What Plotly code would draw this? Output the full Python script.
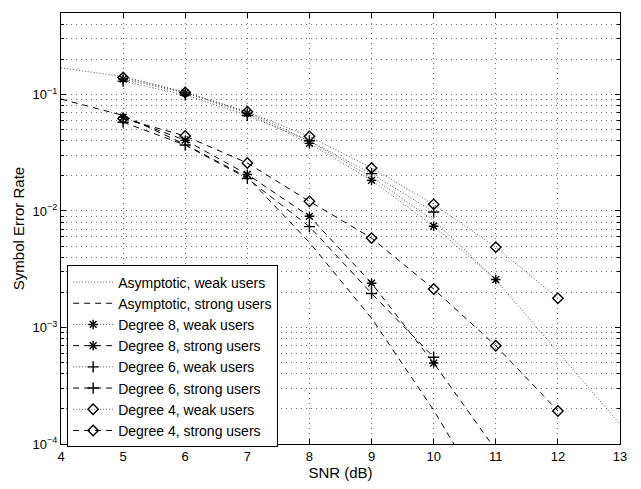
import math
import plotly.graph_objects as go

# ---------------- data ----------------
snr_asym_weak = [4, 5, 6, 7, 8, 9, 10, 11, 12, 13]
asym_weak = [0.169, 0.1426, 0.1047, 0.0708, 0.0398, 0.0195, 0.0083, 0.00257, 0.000617, 0.000148]

snr_asym_strong = [4, 5, 6, 7, 8, 9, 10, 11]
asym_strong = [0.0912, 0.0661, 0.0372, 0.0195, 0.00537, 0.0012, 0.000195, 0.000025]

snr_d8_weak = [5, 6, 7, 8, 9, 10, 11]
d8_weak = [0.1355, 0.103, 0.069, 0.038, 0.0183, 0.0074, 0.00258]
snr_d8_strong = [5, 6, 7, 8, 9, 10, 11]
d8_strong = [0.0637, 0.0405, 0.0206, 0.0090, 0.0024, 0.000495, 0.000089]

snr_d6_weak = [5, 6, 7, 8, 9, 10]
d6_weak = [0.130, 0.099, 0.066, 0.040, 0.0209, 0.0098]
snr_d6_strong = [5, 6, 7, 8, 9, 10]
d6_strong = [0.0578, 0.0368, 0.0190, 0.00734, 0.00196, 0.000556]

snr_d4_weak = [5, 6, 7, 8, 9, 10, 11, 12]
d4_weak = [0.140, 0.104, 0.071, 0.0437, 0.0234, 0.0114, 0.00489, 0.00178]
snr_d4_strong = [5, 6, 7, 8, 9, 10, 11, 12]
d4_strong = [0.062, 0.044, 0.0258, 0.0121, 0.00585, 0.00214, 0.000697, 0.000192]

x_ticks = list(range(4, 14))
y_major = [1e-4, 1e-3, 1e-2, 1e-1]
y_major_text = ["10<sup>\u22124</sup>", "10<sup>\u22123</sup>", "10<sup>\u22122</sup>", "10<sup>\u22121</sup>"]
y_top = 0.5

# ---------------- styling ----------------
FONT = "Liberation Sans, Arial, Helvetica, sans-serif"
DASH = "6px,5px"
DOT = "1px,2px"
GRIDC = "rgba(0,0,0,0.55)"
GRIDDASH = "1px,4px"

y_minor = [m * 10 ** e for e in range(-4, 0) for m in range(2, 10) if m * 10 ** e <= y_top + 1e-12]

fig = go.Figure()

def add(x, y, name, dash, symbol=None, color="black", width=1):
    mode = "lines" if symbol is None else "lines+markers"
    kw = {}
    if symbol is not None:
        kw["marker"] = dict(symbol=symbol, size=8, color="black",
                            line=dict(color="black", width=1.4))
    fig.add_trace(go.Scatter(x=x, y=y, name=name, mode=mode,
                             line=dict(color=color, width=width, dash=dash), **kw))

add(snr_asym_weak, asym_weak, "Asymptotic, weak users", DOT, color="#555")
add(snr_asym_strong, asym_strong, "Asymptotic, strong users", DASH)
add(snr_d8_weak, d8_weak, "Degree 8, weak users", DOT, "asterisk-open", color="#555")
add(snr_d8_strong, d8_strong, "Degree 8, strong users", DASH, "asterisk-open")
add(snr_d6_weak, d6_weak, "Degree 6, weak users", DOT, "cross-thin-open", color="#555")
add(snr_d6_strong, d6_strong, "Degree 6, strong users", DASH, "cross-thin-open")
add(snr_d4_weak, d4_weak, "Degree 4, weak users", DOT, "diamond-open", color="#555")
add(snr_d4_strong, d4_strong, "Degree 4, strong users", DASH, "diamond-open")

fig.update_layout(
    width=641, height=489,
    margin=dict(l=61, r=21, t=12, b=37),
    paper_bgcolor="white", plot_bgcolor="white",
    font=dict(family=FONT, size=13, color="black"),
    showlegend=True,
    legend=dict(x=0.011, y=-0.008, xanchor="left", yanchor="bottom",
                bgcolor="white", bordercolor="black", borderwidth=1,
                font=dict(family=FONT, size=14), tracegroupgap=0,
                itemwidth=40),
    xaxis=dict(
        range=[4, 13], tickmode="array", tickvals=x_ticks,
        ticktext=[str(v) for v in x_ticks],
        ticks="inside", ticklen=5, tickcolor="black",
        showline=True, linecolor="black", linewidth=1, mirror="ticks",
        showgrid=True, gridcolor=GRIDC, griddash=GRIDDASH, gridwidth=1,
        zeroline=False,
        title=dict(text="SNR (dB)", standoff=3, font=dict(size=15)),
    ),
    yaxis=dict(
        type="log", range=[-4, math.log10(y_top)],
        tickmode="array", tickvals=y_major, ticktext=y_major_text,
        ticks="inside", ticklen=5, tickcolor="black",
        showline=True, linecolor="black", linewidth=1, mirror="ticks",
        showgrid=True, gridcolor=GRIDC, griddash=GRIDDASH, gridwidth=1,
        zeroline=False,
        minor=dict(tickmode="array", tickvals=y_minor, ticks="inside", ticklen=3,
                   tickcolor="black", showgrid=True, gridcolor=GRIDC,
                   griddash=GRIDDASH, gridwidth=1),
        title=dict(text="Symbol Error Rate", standoff=4, font=dict(size=15)),
    ),
)

fig.write_html("out.html")
